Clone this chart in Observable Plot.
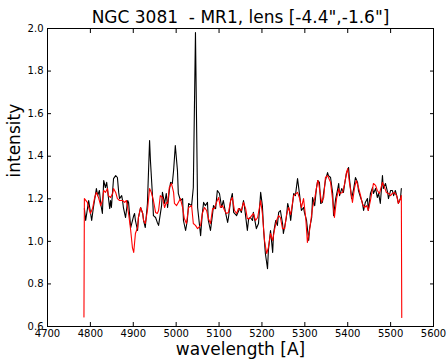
<!DOCTYPE html>
<html>
<head>
<meta charset="utf-8">
<script src="https://cdn.jsdelivr.net/npm/d3@7"></script>
<script src="https://cdn.jsdelivr.net/npm/@observablehq/plot@0.6"></script>
<style>
  html, body { margin: 0; padding: 0; background: #fff; }
  svg { display: block; }
</style>
</head>
<body>
<div id="chart"></div>
<script>
const titleText = "NGC 3081 \u00a0- MR1, lens [-4.4\",-1.6\"]";
const xLabel = "wavelength [A]";
const yLabel = "intensity";
const xTicks = [4700, 4800, 4900, 5000, 5100, 5200, 5300, 5400, 5500, 5600];
const yTicks = [0.6, 0.8, 1.0, 1.2, 1.4, 1.6, 1.8, 2.0];

const blackWl = [4786,4789,4796,4803,4807,4814,4817,4821,4824,4828,4831,4835,4838,4842,4845,4847,4849,4854,4859,4863,4866,4868,4873,4875,4877,4882,4887,4889,4894,4901,4903,4905,4910,4912,4917,4922,4924,4928,4933,4938,4940,4945,4947,4952,4956,4959,4966,4968,4973,4977,4980,4984,4987,4991,4994,4998,5003,5005,5010,5015,5017,5022,5026,5029,5036,5040,5045,5050,5057,5061,5064,5068,5073,5075,5080,5085,5087,5092,5096,5101,5106,5110,5115,5120,5122,5127,5131,5134,5141,5143,5148,5152,5157,5159,5166,5169,5173,5178,5180,5187,5192,5197,5201,5204,5208,5213,5215,5220,5225,5227,5232,5236,5239,5243,5248,5250,5257,5260,5264,5267,5274,5278,5283,5288,5292,5297,5299,5304,5309,5311,5316,5318,5323,5327,5330,5334,5337,5341,5344,5348,5353,5355,5360,5365,5367,5372,5376,5379,5381,5386,5390,5393,5397,5402,5404,5409,5414,5418,5423,5425,5430,5434,5437,5441,5446,5448,5453,5458,5460,5465,5469,5472,5476,5481,5483,5488,5493,5495,5500,5504,5507,5511,5516,5518,5523,5525];
const blackI = [1.154,1.098,1.192,1.098,1.159,1.248,1.215,1.239,1.178,1.131,1.286,1.253,1.277,1.206,1.154,1.192,1.159,1.295,1.309,1.300,1.230,1.201,1.215,1.192,1.159,1.112,1.192,1.183,1.065,1.121,1.131,1.098,1.051,1.112,1.159,1.131,1.098,1.065,1.178,1.474,1.380,1.206,1.121,1.112,1.089,1.075,1.168,1.230,1.178,1.225,1.159,1.239,1.277,1.272,1.333,1.450,1.333,1.225,1.192,1.201,1.098,1.051,1.098,1.178,1.168,1.253,1.981,1.159,1.027,1.131,1.183,1.168,1.183,1.098,1.051,1.131,1.168,1.154,1.239,1.225,1.159,1.192,1.136,1.089,1.112,1.192,1.225,1.136,1.121,1.131,1.154,1.136,1.192,1.168,1.051,1.107,1.112,1.098,1.136,1.060,1.084,1.230,1.168,1.051,0.943,0.872,0.957,1.051,0.948,1.037,1.098,1.075,1.136,1.145,1.084,1.037,1.112,1.178,1.145,1.098,1.225,1.215,1.295,1.215,1.145,1.159,1.136,1.098,1.004,1.060,1.112,1.206,1.168,1.248,1.286,1.277,1.178,1.183,1.230,1.286,1.323,1.309,1.300,1.225,1.121,1.201,1.239,1.272,1.215,1.248,1.230,1.272,1.319,1.347,1.295,1.201,1.248,1.300,1.277,1.239,1.206,1.183,1.145,1.183,1.201,1.145,1.225,1.253,1.225,1.248,1.206,1.225,1.178,1.309,1.248,1.272,1.230,1.201,1.239,1.239,1.215,1.239,1.201,1.178,1.201,1.248];

const redWl = [4785,4786,4793,4796,4800,4805,4810,4814,4819,4824,4828,4831,4835,4840,4842,4847,4852,4854,4859,4863,4868,4875,4880,4884,4889,4894,4898,4901,4905,4910,4912,4917,4922,4924,4928,4933,4938,4942,4947,4952,4956,4959,4963,4968,4973,4977,4980,4984,4989,4994,4996,5001,5005,5010,5015,5019,5024,5029,5036,5040,5045,5050,5057,5061,5066,5071,5075,5080,5085,5089,5094,5099,5103,5108,5113,5117,5122,5127,5131,5136,5141,5145,5152,5157,5162,5166,5171,5176,5180,5185,5190,5197,5201,5206,5211,5215,5220,5225,5229,5234,5239,5243,5248,5253,5257,5262,5267,5274,5283,5288,5292,5297,5302,5306,5311,5318,5323,5330,5332,5339,5344,5348,5353,5360,5365,5369,5374,5379,5381,5388,5393,5397,5400,5404,5411,5416,5420,5425,5430,5434,5439,5444,5448,5453,5460,5465,5469,5474,5481,5486,5490,5495,5500,5504,5509,5514,5518,5523,5525,5526];
const redI = [0.645,1.201,1.183,1.159,1.131,1.154,1.206,1.230,1.206,1.168,1.192,1.239,1.230,1.248,1.215,1.206,1.225,1.248,1.230,1.201,1.192,1.192,1.183,1.192,1.131,1.051,0.971,0.948,1.037,1.065,1.112,1.159,1.131,1.098,1.084,1.145,1.248,1.230,1.192,1.136,1.131,1.145,1.215,1.206,1.159,1.183,1.178,1.253,1.272,1.230,1.178,1.168,1.183,1.201,1.159,1.107,1.084,1.159,1.168,1.084,1.075,1.060,1.075,1.131,1.159,1.145,1.107,1.084,1.154,1.154,1.183,1.206,1.159,1.168,1.145,1.131,1.136,1.192,1.206,1.145,1.131,1.154,1.145,1.183,1.154,1.107,1.107,1.121,1.131,1.098,1.112,1.192,1.131,1.004,0.943,0.971,1.037,1.004,1.051,1.098,1.121,1.112,1.060,1.060,1.121,1.159,1.126,1.215,1.230,1.201,1.159,1.201,1.112,0.995,1.051,1.159,1.201,1.286,1.277,1.183,1.206,1.300,1.309,1.277,1.192,1.112,1.201,1.248,1.225,1.230,1.272,1.323,1.342,1.277,1.183,1.253,1.286,1.253,1.215,1.178,1.159,1.168,1.145,1.192,1.272,1.263,1.239,1.225,1.277,1.253,1.230,1.225,1.215,1.225,1.230,1.215,1.178,1.201,1.215,0.642];

const blackData = blackWl.map((w, i) => ({w, v: blackI[i]}));
const redData = redWl.map((w, i) => ({w, v: redI[i]}));
const fmtY = d3.format(".1f");
const fmtX = d3.format("d");

const chart = Plot.plot({
  width: 448,
  height: 359,
  marginTop: 28,
  marginBottom: 33,
  marginLeft: 47,
  marginRight: 15,
  style: {fontFamily: "DejaVu Sans", fontSize: "10px", background: "#fff", color: "#000"},
  x: {domain: [4700, 5600], label: null},
  y: {domain: [0.6, 2.0], label: null},
  marks: [
    Plot.axisX(xTicks, {anchor: "bottom", tickSize: 0, tickPadding: 3, tickFormat: fmtX, label: null, fontSize: 10}),
    Plot.axisX(xTicks, {anchor: "bottom", tickSize: -4, tickFormat: () => "", label: null}),
    Plot.axisX(xTicks, {anchor: "top", tickSize: -4, tickFormat: () => "", label: null}),
    Plot.axisY(yTicks, {anchor: "left", tickSize: 0, tickPadding: 4, tickFormat: fmtY, label: null, fontSize: 10}),
    Plot.axisY(yTicks, {anchor: "left", tickSize: -4, tickFormat: () => "", label: null}),
    Plot.axisY(yTicks, {anchor: "right", tickSize: -4, tickFormat: () => "", label: null}),
    Plot.lineY(blackData, {x: "w", y: "v", stroke: "#000", strokeWidth: 1.1}),
    Plot.lineY(redData, {x: "w", y: "v", stroke: "#ff0000", strokeWidth: 1.1}),
    Plot.frame({stroke: "#000", strokeWidth: 1}),
    Plot.text([titleText], {frameAnchor: "top", dy: -18, fontSize: 17, fill: "#000"}),
    Plot.text([xLabel], {frameAnchor: "bottom", dy: 28, fontSize: 17, fill: "#000"}),
    Plot.text([yLabel], {frameAnchor: "left", dx: -33, rotate: -90, fontSize: 17, fill: "#000"})
  ]
});
document.getElementById("chart").appendChild(chart);
</script>
</body>
</html>
